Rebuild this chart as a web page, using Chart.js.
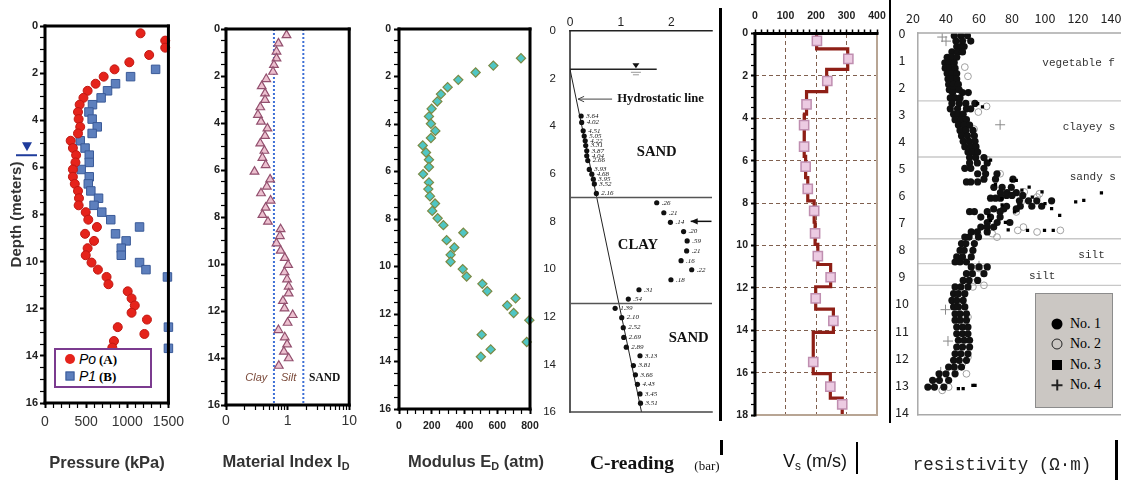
<!DOCTYPE html>
<html>
<head>
<meta charset="utf-8">
<title>Borehole profiles</title>
<script src="https://cdn.jsdelivr.net/npm/chart.js@4.4.1/dist/chart.umd.min.js"></script>
<style>
  html, body { margin: 0; padding: 0; background: #fff; }
  body { position: relative; width: 1121px; height: 480px; overflow: hidden; font-family: 'Liberation Sans', Arial, sans-serif; }
  canvas { position: absolute; top: 0; }
  .lbl { position: absolute; white-space: nowrap; transform: translate(-50%, -50%); line-height: 1; }
  .lbl sub { font-size: 0.66em; vertical-align: -0.3em; }
  .rule { position: absolute; background: #000; }
  .legend { position: absolute; box-sizing: border-box; }
  .legend .sym { position: absolute; transform: translate(-50%, -50%); box-sizing: border-box; }
  .legend .txt { position: absolute; transform: translateY(-50%); white-space: nowrap; line-height: 1; }
</style>
</head>
<body>
<canvas id="pressure" width="190" height="480" style="left:0"></canvas>
<canvas id="material" width="170" height="480" style="left:190px"></canvas>
<canvas id="modulus" width="190" height="480" style="left:360px"></canvas>
<canvas id="creading" width="185" height="480" style="left:535px"></canvas>
<canvas id="vs" width="175" height="480" style="left:725px"></canvas>
<canvas id="resist" width="280" height="480" style="left:892px"></canvas>

<div class="legend" style="left:54px;top:348px;width:98px;height:40px;border:2px solid #7b3b8f;background:#fff">
  <div class="sym" style="left:14px;top:9px;width:10px;height:10px;border-radius:50%;background:#e5231b"></div>
  <div class="txt" style="left:23px;top:9px;font:italic 14px 'Liberation Sans'">Po</div>
  <div class="txt" style="left:43px;top:10px;font:bold 13px 'Liberation Serif'">(A)</div>
  <div class="sym" style="left:14px;top:26px;width:9px;height:9px;background:#5d7fbd;border:1px solid #3a5a98"></div>
  <div class="txt" style="left:23px;top:26px;font:italic 14px 'Liberation Sans'">P1</div>
  <div class="txt" style="left:43px;top:27px;font:bold 13px 'Liberation Serif'">(B)</div>
</div>

<div class="legend" style="left:1035px;top:293px;width:78px;height:115px;border:1px solid #8c8c8c;background:#cbc7c3">
  <div class="sym" style="left:21px;top:30px;width:11px;height:11px;border-radius:50%;background:#000"></div>
  <div class="txt" style="left:34px;top:30px;font:14px 'Liberation Serif'">No. 1</div>
  <div class="sym" style="left:21px;top:50px;width:11px;height:11px;border-radius:50%;border:1px solid #222"></div>
  <div class="txt" style="left:34px;top:50px;font:14px 'Liberation Serif'">No. 2</div>
  <div class="sym" style="left:21px;top:71px;width:10px;height:10px;background:#000"></div>
  <div class="txt" style="left:34px;top:71px;font:14px 'Liberation Serif'">No. 3</div>
  <div class="sym" style="left:21px;top:91px;width:11px;height:1.5px;background:#222"></div>
  <div class="sym" style="left:21px;top:91px;width:1.5px;height:11px;background:#222"></div>
  <div class="txt" style="left:34px;top:91px;font:14px 'Liberation Serif'">No. 4</div>
</div>

<div class="lbl" style="left:107px;top:462px;font:bold 16.5px 'Liberation Sans';color:#333">Pressure (kPa)</div>
<div class="lbl" style="left:286px;top:462px;font:bold 16.5px 'Liberation Sans';color:#333">Material Index I<sub>D</sub></div>
<div class="lbl" style="left:476px;top:462px;font:bold 16.5px 'Liberation Sans';color:#333">Modulus E<sub>D</sub> (atm)</div>
<div class="lbl" style="left:632px;top:463px;font:bold 19.5px 'Liberation Serif';color:#111">C-reading</div>
<div class="lbl" style="left:707px;top:466px;font:13px 'Liberation Serif';color:#111">(bar)</div>
<div class="lbl" style="left:815px;top:462px;font:18px 'Liberation Sans';color:#111">V<sub>s</sub> (m/s)</div>
<div class="lbl" style="left:1002px;top:465px;font:17.5px 'Liberation Mono';color:#222">resistivity (Ω·m)</div>

<div class="rule" style="left:719px;top:8px;width:3px;height:413px"></div>
<div class="rule" style="left:720px;top:440px;width:3px;height:15px"></div>
<div class="rule" style="left:856px;top:442px;width:2px;height:32px"></div>
<div class="rule" style="left:889px;top:0;width:2px;height:423px"></div>
<div class="rule" style="left:1115px;top:440px;width:3px;height:40px"></div>

<script>
// ---- pressuremeter: Po (A) and P1 (B), kPa against depth (m)
const poDepth = [0.31,0.62,0.92,1.23,1.54,1.84,2.15,2.45,2.75,3.05,3.34,3.65,3.95,4.28,4.56,4.87,5.18,5.48,5.79,6.09,6.40,6.70,7.00,7.31,7.61,7.90,8.22,8.53,8.82,9.12,9.43,9.73,10.04,10.34,10.65,10.96,11.26,11.56,11.86,12.17,12.46,12.78,13.07,13.37,13.65];
const poKPa = [1161,1461,1461,1266,1025,845,713,615,518,467,421,401,409,428,401,312,339,378,370,339,339,362,401,413,409,495,526,631,487,596,518,495,565,643,748,771,1005,1052,1091,1052,1239,884,1208,838,818];
const p1Depth = [1.84,2.15,2.45,2.75,3.05,3.34,3.65,3.95,4.28,4.56,4.87,5.18,5.48,5.79,6.09,6.40,6.70,7.00,7.31,7.61,7.90,8.22,8.53,8.82,9.12,9.43,9.73,10.04,10.34,10.65,12.78,13.68];
const p1KPa = [1344,1040,857,760,682,577,534,573,635,573,428,487,538,538,440,538,526,557,651,596,690,799,1149,857,986,927,927,1149,1227,1488,1500,1500];
const waterTableDepth = 5.4;

// ---- material index ID (log axis)
const idDepth = [0.26,0.61,0.96,1.25,1.53,1.82,2.13,2.43,2.74,3.02,3.33,3.65,3.94,4.23,4.55,4.87,5.18,5.48,5.79,6.07,6.40,6.71,6.99,7.30,7.60,7.91,8.20,8.52,8.81,9.12,9.43,9.74,10.04,10.35,10.65,10.96,11.25,11.57,11.89,12.17,12.50,12.81,13.12,13.42,13.73,14.01,14.33];
const idValue = [0.96,0.71,0.66,0.66,0.60,0.58,0.45,0.38,0.43,0.43,0.36,0.33,0.37,0.47,0.43,0.36,0.42,0.39,0.44,0.29,0.52,0.46,0.37,0.53,0.44,0.39,0.48,0.77,0.75,0.66,0.77,0.90,1.02,0.89,0.98,1.04,1.04,0.84,0.89,1.21,1.00,0.71,0.90,0.98,0.87,1.04,0.72];
const idTicks = [0.1,0.2,0.3,0.4,0.5,0.6,0.7,0.8,0.9,1,2,3,4,5,6,7,8,9,10];
const idBounds = [0.6, 1.8];
const idZones = ['Clay', 'Silt', 'SAND'];
const idZoneAt = [0.31, 1.04, 4.0];
const idZoneDepth = 14.85;

// ---- dilatometer modulus ED (atm)
const edDepth = [1.23,1.54,1.83,2.14,2.45,2.74,3.05,3.36,3.68,3.99,4.29,4.59,4.90,5.20,5.50,5.81,6.11,6.46,6.74,7.04,7.35,7.66,7.97,8.26,8.58,8.89,9.20,9.51,9.80,10.11,10.42,10.73,11.04,11.34,11.64,11.96,12.26,12.87,13.18,13.49,13.80];
const edAtm = [745,576,468,362,297,256,234,199,183,195,222,195,145,165,183,183,147,183,179,189,220,203,236,271,393,291,338,315,315,389,413,509,539,712,661,700,796,505,780,560,500];

// ---- C-reading (bar) with printed ratios
const cDepth = [3.58,3.85,4.20,4.42,4.62,4.82,5.04,5.25,5.45,5.82,6.02,6.23,6.43,6.83,7.22,7.64,8.04,8.43,8.82,9.24,9.65,10.03,10.45,10.87,11.26,11.65,12.04,12.46,12.87,13.28,13.64,14.05,14.44,14.84,15.24,15.63];
const cBar = [0.22,0.23,0.26,0.28,0.30,0.31,0.33,0.33,0.35,0.38,0.43,0.46,0.48,0.52,1.71,1.85,1.98,2.24,2.31,2.30,2.19,2.40,1.99,1.36,1.15,0.89,1.02,1.05,1.06,1.11,1.38,1.25,1.29,1.33,1.38,1.39];
const cTags = ['3.64','4.02','4.51','5.05','4.22','3.31','3.87','4.04','2.66','3.93','4.68','3.95','3.52','2.16','.26','.21','.14','.20','.59','.21','.16','.22','.18','.31','.54','1.39','2.10','2.52','2.69','2.89','3.13','3.81','3.66','4.43','3.45','3.51'];
const hydroDepth = [1.62, 16];
const hydroBar = [0, 1.41];
const cWaterDepth = 1.62;
const cLayerDepths = [7.0, 11.45];
const cSoils = ['SAND', 'CLAY', 'SAND'];
const cSoilDepth = [5.08, 9.0, 12.92];
const cSoilBar = [1.71, 1.34, 2.34];

// ---- shear wave velocity Vs (m/s)
const vsBounds = [0,0.73,1.69,2.74,3.8,4.85,5.8,6.8,7.9,8.9,9.95,10.9,11.95,13.0,14.1,16.05,17.2,18];
const vsLayer = [202,304,235,169,162,161,166,173,194,197,206,248,199,257,191,247,286];
const vsPtDepth = [0.35,1.2,2.24,3.34,4.32,5.34,6.28,7.33,8.37,9.43,10.5,11.5,12.5,13.56,15.5,16.66,17.5];
const vsPtValue = [203,306,237,169,161,161,166,173,194,197,206,248,199,257,191,247,286];

// ---- resistivity (ohm m), probes No.1 to No.4
const res1Depth = [0.1,0.3,0.5,0.7,0.9,1.1,1.3,1.5,1.7,1.9,2.1,2.2,2.4,2.6,2.8,3.0,3.2,3.4,3.6,3.8,4.0,4.2,4.4,4.6,4.8,5.0,5.2,5.4,5.5,5.7,5.9,6.0,6.1,6.2,6.4,6.5,6.6,6.8,7.0,7.17,7.35,7.54,7.78,8.03,8.27,8.46,8.64,8.89,9.14,9.38,9.63,9.88,10.12,10.37,10.61,10.86,11.11,11.35,11.6,11.85,12.09,12.34,12.59,12.83,13.08];
const res1Ohm = [
  [45,49,53],[46,50,55],[46.5,49,51],[43.6,47,50],[40.7,43.5,46.5],
  [39.3,42,45],[39.5,42.5,45.5],[40.7,43.5,46.5],[41.2,44,46.5],[41.6,44.5,47.5],
  [42,45,48],[44,50,53.5],[42.6,45.5,48.5],[43.6,48,52,57.5],[42.6,47,52.4,55],
  [44.6,47.5,50.4],[45.5,49,52.4],[47.5,51,54.3],[48.5,52,56.3],[49.4,53,57.2],
  [50.4,54,57.6],[51.4,55,58.2],[53.3,56,59.2],[54.3,58,63],[54.3,59,65],
  [51.4,55,63],[59.2,64,70.9],[63,70,80.6],[52.4,55,59.2],[69,74,79.6],
  [73,77,82.6],[76.7,80,86.5],[67,70,73],[84.5,90,95,104],[76.7,85,92,98],
  [68.9,75,82.6],[54.3,57.2,65,72.8],[61.1,67,72.8],[65,71,78.7],[61.1,65,68.9],
  [55.3,59,65],[51.4,54,59.7],[49.4,52,57.2],[48.5,51,56.3],[46.5,50,55.3],
  [45.5,48.5,52.4],[55.3,60,65],[52.4,56,63],[50.4,54,59.2],[45.5,49,53.3],
  [44.6,47.5,51.4],[43.6,46.5,50.4],[44.6,47.5,51.4],[45.5,48.5,52.4],[45.5,48.5,52.4],
  [46.5,50,53.3],[46.5,50,53.3],[47.5,51,54.3],[46.5,50,54.3],[45.5,49,53.3],
  [44.6,48,52.4],[41.6,45,49.4],[35.8,40,45.5],[31.9,36,41.6],[29,33,38.7]
];
const res2Depth = [0.15,0.52,1.26,1.6,3.1,2.71,2.92,3.55,4.2,4.68,5.2,5.87,5.94,6.06,6.24,6.61,7.17,7.29,7.29,7.35,7.41,7.41,7.54,8.7,9.0,9.32,9.38,10.49,11.0,11.5,11.97,12.2,12.4,12.59,13.08,13.2];
const res2Ohm = [52.4,47.5,51.4,53.3,48,64.6,59.6,57,55,65,72.8,87.4,96.6,95.2,85.5,82.6,86.9,83.5,109.3,95.2,68,59.2,70.9,60,56,63,56.3,53.3,52,49,53.3,50,45.5,52.4,41.6,37.7];
const res3Depth = [2.61,2.73,4.7,5.44,5.44,5.6,5.69,5.8,5.87,5.91,6.12,6.06,6.18,6.24,6.3,6.49,6.35,6.61,6.74,6.75,6.92,7.0,7.27,7.29,7.29,7.29,13.02,13.02,13.14,13.14];
const res3Ohm = [59.2,62.1,67,79.6,82.6,70,90.4,86,98.2,134.2,73.8,92.3,123.5,118.6,100,104,74,81.6,108.9,66,67,76,77.7,89.4,99.7,105,56.3,57.6,47.5,50.4];
const res4Depth = [0.15,0.3,3.39,4.3,8.6,10.22,11.38,12.52];
const res4Ohm = [37.7,40,72.8,55,60,39.7,41.2,36.8];
const resLayerDepths = [2.51, 4.58, 7.6, 8.52, 9.32];
const resSoils = ['vegetable f', 'clayey s', 'sandy s', 'silt', 'silt'];
const resSoilDepth = [1.12, 3.47, 5.31, 8.21, 8.98];
const resSoilOhm = [98.4, 110.7, 115, 120.2, 90.3];
const resBoxFrom = 22.9;

Chart.defaults.font.family = "'Liberation Sans', Arial, sans-serif";
Chart.defaults.color = '#222';
Chart.defaults.animation = false;
Chart.defaults.responsive = false;
Chart.defaults.plugins.legend.display = false;
Chart.defaults.plugins.tooltip.enabled = false;

const pts = (xs, ys) => xs.map((x, i) => ({x, y: ys[i]}));
const fixW = w => s => { s.width = w; };
const fixH = h => s => { s.height = h; };
const every = n => v => (Math.abs(v % n) < 1e-6 ? v : '');
const tickGrid = isMajor => ({
  drawOnChartArea: false, drawTicks: true, tickLength: 5, tickColor: '#000',
  tickWidth: c => (c.tick && isMajor(c.tick.value) ? 2 : 1.2)
});
const multipleOf = n => v => Math.abs(v % n) < 1e-6;

function frame(sides, xFrom) {
  return {
    id: 'frame',
    afterDatasetsDraw(chart) {
      const {ctx, chartArea: a} = chart;
      const left = xFrom === undefined ? a.left : chart.scales.x.getPixelForValue(xFrom);
      ctx.save();
      sides.forEach(([side, color, width]) => {
        const h = width / 2;
        ctx.strokeStyle = color;
        ctx.lineWidth = width;
        ctx.beginPath();
        if (side === 'top') { ctx.moveTo(left - h, a.top); ctx.lineTo(a.right + h, a.top); }
        else if (side === 'bottom') { ctx.moveTo(left - h, a.bottom); ctx.lineTo(a.right + h, a.bottom); }
        else if (side === 'left') { ctx.moveTo(left, a.top - h); ctx.lineTo(left, a.bottom + h); }
        else { ctx.moveTo(a.right, a.top - h); ctx.lineTo(a.right, a.bottom + h); }
        ctx.stroke();
      });
      ctx.restore();
    }
  };
}
const box = (color, width) => ['top', 'right', 'bottom', 'left'].map(s => [s, color, width]);

function arrow(ctx, x1, y1, x2, y2, head, filled) {
  ctx.beginPath();
  ctx.moveTo(x1, y1);
  ctx.lineTo(x2, y2);
  ctx.stroke();
  const dir = Math.sign(x2 - x1) || 1;
  ctx.beginPath();
  ctx.moveTo(x2 - dir * head, y2 - head / 2.2);
  ctx.lineTo(x2, y2);
  ctx.lineTo(x2 - dir * head, y2 + head / 2.2);
  if (filled) { ctx.closePath(); ctx.fill(); } else { ctx.stroke(); }
}

// panel 1
new Chart(document.getElementById('pressure'), {
  type: 'scatter',
  data: { datasets: [
    { data: pts(poKPa, poDepth), pointStyle: 'circle', pointRadius: 4.5, backgroundColor: '#e5231b', borderColor: '#c01812', borderWidth: 1, clip: false },
    { data: pts(p1KPa, p1Depth), pointStyle: 'rect', pointRadius: 6, backgroundColor: '#5d7fbd', borderColor: '#3a5a98', borderWidth: 1, clip: false }
  ]},
  options: {
    layout: { padding: { top: 26, right: 17 } },
    scales: {
      x: { min: 0, max: 1500, afterFit: fixH(77), border: { display: false }, grid: tickGrid(multipleOf(500)),
           ticks: { stepSize: 100, autoSkip: false, maxRotation: 0, padding: 6, color: '#333', font: { size: 14 }, callback: every(500) } },
      y: { reverse: true, min: 0, max: 16, afterFit: fixW(45), border: { display: false }, grid: tickGrid(multipleOf(2)),
           ticks: { stepSize: 0.5, autoSkip: false, padding: 2, font: { size: 11, weight: 'bold' }, callback: every(2) },
           title: { display: true, text: 'Depth (meters)', color: '#333', font: { size: 15, weight: 'bold' }, padding: { top: 8, bottom: 0 } } }
    }
  },
  plugins: [frame(box('#000', 3)), {
    id: 'waterTable',
    afterDraw(chart) {
      const {ctx, chartArea: a, scales: {y}} = chart;
      const py = y.getPixelForValue(waterTableDepth);
      const cx = a.left - 18;
      ctx.save();
      ctx.strokeStyle = '#1f3c9c';
      ctx.fillStyle = '#1f3c9c';
      ctx.lineWidth = 2;
      ctx.beginPath();
      ctx.moveTo(a.left - 29, py + 2);
      ctx.lineTo(a.left - 8, py + 2);
      ctx.stroke();
      ctx.beginPath();
      ctx.moveTo(cx - 5, py - 11);
      ctx.lineTo(cx + 5, py - 11);
      ctx.lineTo(cx, py - 2);
      ctx.closePath();
      ctx.fill();
      ctx.restore();
    }
  }]
});

// panel 2
new Chart(document.getElementById('material'), {
  type: 'scatter',
  data: { datasets: [
    { data: pts(idValue, idDepth), pointStyle: 'triangle', pointRadius: 5, backgroundColor: '#ecc0cf', borderColor: '#93506f', borderWidth: 1.2 }
  ]},
  options: {
    layout: { padding: { top: 29, right: 8 } },
    scales: {
      x: { type: 'logarithmic', min: 0.1, max: 10, afterFit: fixH(75), border: { display: false },
           afterBuildTicks: s => { s.ticks = idTicks.map(v => ({ value: v })); },
           grid: tickGrid(v => v === 0.1 || v === 1 || v === 10),
           ticks: { autoSkip: false, maxRotation: 0, padding: 3, color: '#333', font: { size: 14 },
                    callback: v => (v === 0.1 ? '0' : (v === 1 || v === 10) ? String(v) : '') } },
      y: { reverse: true, min: 0, max: 16, afterFit: fixW(36), border: { display: false }, grid: tickGrid(multipleOf(2)),
           ticks: { stepSize: 0.5, autoSkip: false, padding: 1, font: { size: 11, weight: 'bold' }, callback: every(2) } }
    }
  },
  plugins: [frame(box('#000', 3)), {
    id: 'zones',
    beforeDatasetsDraw(chart) {
      const {ctx, chartArea: a, scales: {x, y}} = chart;
      ctx.save();
      ctx.strokeStyle = '#3d6fd6';
      ctx.lineWidth = 2;
      ctx.setLineDash([2, 2]);
      idBounds.forEach(v => {
        const px = x.getPixelForValue(v);
        ctx.beginPath();
        ctx.moveTo(px, a.top);
        ctx.lineTo(px, a.bottom);
        ctx.stroke();
      });
      ctx.setLineDash([]);
      ctx.textAlign = 'center';
      ctx.textBaseline = 'middle';
      const py = y.getPixelForValue(idZoneDepth);
      idZones.forEach((name, i) => {
        const isSand = name === 'SAND';
        ctx.font = isSand ? "bold 11.5px 'Liberation Serif'" : "italic 11px 'Liberation Sans'";
        ctx.fillStyle = isSand ? '#111' : '#7b4a3a';
        ctx.fillText(name, x.getPixelForValue(idZoneAt[i]), py);
      });
      ctx.restore();
    }
  }]
});

// panel 3
new Chart(document.getElementById('modulus'), {
  type: 'scatter',
  data: { datasets: [
    { data: pts(edAtm, edDepth), pointStyle: 'rectRot', pointRadius: 4.6, backgroundColor: '#4fc6c4', borderColor: '#7b8a45', borderWidth: 1.2, clip: false }
  ]},
  options: {
    layout: { padding: { top: 29, right: 20 } },
    scales: {
      x: { min: 0, max: 800, afterFit: fixH(71), border: { display: false }, grid: tickGrid(multipleOf(200)),
           ticks: { stepSize: 50, autoSkip: false, maxRotation: 0, padding: 6, font: { size: 10.5, weight: 'bold' }, callback: every(200) } },
      y: { reverse: true, min: 0, max: 16, afterFit: fixW(39), border: { display: false }, grid: tickGrid(multipleOf(2)),
           ticks: { stepSize: 0.5, autoSkip: false, padding: 3, font: { size: 10.5, weight: 'bold' }, callback: every(2) } }
    }
  },
  plugins: [frame(box('#000', 3))]
});

// panel 4
new Chart(document.getElementById('creading'), {
  type: 'scatter',
  data: { datasets: [
    { data: pts(cBar, cDepth), pointStyle: 'circle', pointRadius: 2.6, backgroundColor: '#111', borderColor: '#111', borderWidth: 0 },
    { data: pts(hydroBar, hydroDepth), showLine: true, pointRadius: 0, borderColor: '#222', borderWidth: 1 }
  ]},
  options: {
    layout: { padding: { right: 8, bottom: 68 } },
    scales: {
      x: { position: 'top', min: 0, max: 2.8, afterFit: fixH(30.7), border: { display: false }, grid: { display: false, drawTicks: false },
           ticks: { stepSize: 1, includeBounds: false, autoSkip: false, maxRotation: 0, padding: 1, color: '#222', font: { size: 12 } } },
      y: { reverse: true, min: 0, max: 16, afterFit: fixW(35), border: { display: false }, grid: { display: false, drawTicks: false },
           ticks: { stepSize: 2, padding: 14, color: '#222', font: { size: 11.5 } } }
    }
  },
  plugins: [frame([['top', '#222', 1.5], ['left', '#222', 1.5], ['bottom', '#444', 1.5]]), {
    id: 'cNotes',
    afterDatasetsDraw(chart) {
      const {ctx, chartArea: a, scales: {x, y}} = chart;
      ctx.save();
      ctx.strokeStyle = '#555';
      ctx.lineWidth = 1.5;
      cLayerDepths.forEach(d => {
        const py = y.getPixelForValue(d);
        ctx.beginPath(); ctx.moveTo(a.left, py); ctx.lineTo(a.right, py); ctx.stroke();
      });
      // water table
      const wy = y.getPixelForValue(cWaterDepth);
      ctx.strokeStyle = '#222';
      ctx.beginPath(); ctx.moveTo(a.left, wy); ctx.lineTo(x.getPixelForValue(1.71), wy); ctx.stroke();
      const wx = x.getPixelForValue(1.3);
      ctx.fillStyle = '#111';
      ctx.beginPath(); ctx.moveTo(wx - 3.5, wy - 6); ctx.lineTo(wx + 3.5, wy - 6); ctx.lineTo(wx, wy - 1); ctx.closePath(); ctx.fill();
      ctx.strokeStyle = '#999'; ctx.lineWidth = 1;
      ctx.beginPath(); ctx.moveTo(wx - 5, wy + 3); ctx.lineTo(wx + 5, wy + 3); ctx.moveTo(wx - 3, wy + 5.5); ctx.lineTo(wx + 3, wy + 5.5); ctx.stroke();
      // hydrostatic label
      const hy = y.getPixelForValue(2.87);
      ctx.strokeStyle = '#444'; ctx.fillStyle = '#444'; ctx.lineWidth = 1;
      arrow(ctx, x.getPixelForValue(0.83), hy, x.getPixelForValue(0.16), hy, 6, false);
      ctx.fillStyle = '#111';
      ctx.font = "bold 12.7px 'Liberation Serif'";
      ctx.textBaseline = 'middle';
      ctx.textAlign = 'left';
      ctx.fillText('Hydrostatic line', x.getPixelForValue(0.93), hy);
      // arrow at 8 m
      const ay = y.getPixelForValue(8.0);
      ctx.strokeStyle = '#111'; ctx.lineWidth = 1.5;
      arrow(ctx, x.getPixelForValue(2.79), ay, x.getPixelForValue(2.38), ay, 7, true);
      // soil names
      ctx.textAlign = 'center';
      ctx.font = "bold 14.7px 'Liberation Serif'";
      cSoils.forEach((s, i) => ctx.fillText(s, x.getPixelForValue(cSoilBar[i]), y.getPixelForValue(cSoilDepth[i])));
      // printed ratios
      ctx.textAlign = 'left';
      ctx.font = "italic 7px 'Liberation Serif'";
      cTags.forEach((t, i) => ctx.fillText(t, x.getPixelForValue(cBar[i]) + 5, y.getPixelForValue(cDepth[i])));
      ctx.restore();
    }
  }]
});

// panel 5
const vsSteps = vsLayer.flatMap((v, i) => [{ x: v, y: vsBounds[i] }, { x: v, y: vsBounds[i + 1] }]);
new Chart(document.getElementById('vs'), {
  type: 'scatter',
  data: { datasets: [
    { data: pts(vsPtValue, vsPtDepth), pointStyle: 'rect', pointRadius: 6.5, backgroundColor: '#eccbe2', borderColor: '#bf8eb0', borderWidth: 1.5, clip: false },
    { data: vsSteps, showLine: true, pointRadius: 0, borderColor: '#8e1f16', borderWidth: 3.2, borderJoinStyle: 'miter', clip: false }
  ]},
  options: {
    layout: { padding: { right: 23, bottom: 65 } },
    scales: {
      x: { position: 'top', min: 0, max: 400, afterFit: fixH(33.5), border: { display: false, dash: [4, 3] },
           grid: { drawOnChartArea: true, drawTicks: true, tickLength: 4, tickColor: '#000', tickWidth: 1.5, lineWidth: 1,
                   color: c => (c.tick && c.tick.value % 100 === 0 && c.tick.value > 0 && c.tick.value < 400 ? '#80604f' : 'rgba(0,0,0,0)') },
           ticks: { stepSize: 20, autoSkip: false, maxRotation: 0, padding: 7, font: { size: 10.5, weight: 'bold' }, callback: every(100) } },
      y: { reverse: true, min: 0, max: 18, afterFit: fixW(30), border: { display: false, dash: [4, 3] },
           grid: { drawOnChartArea: true, drawTicks: true, tickLength: 4, tickColor: '#000', lineWidth: 1,
                   tickWidth: c => (c.tick && c.tick.value % 2 === 0 ? 2 : 1.2),
                   color: c => (c.tick && c.tick.value % 2 === 0 && c.tick.value > 0 && c.tick.value < 18 ? '#80604f' : 'rgba(0,0,0,0)') },
           ticks: { stepSize: 0.5, autoSkip: false, padding: 3, font: { size: 10.5, weight: 'bold' }, callback: every(2) } }
    }
  },
  plugins: [frame([['right', '#b8a594', 2], ['bottom', '#b8a594', 2], ['left', '#000', 3], ['top', '#000', 3]])]
});

// panel 6
const res1Points = res1Depth.flatMap((d, i) => res1Ohm[i].map(v => ({ x: v, y: d })));
new Chart(document.getElementById('resist'), {
  type: 'scatter',
  data: { datasets: [
    { data: pts(res3Ohm, res3Depth), pointStyle: 'rect', pointRadius: 2.3, backgroundColor: '#000', borderWidth: 0 },
    { data: res1Points, pointStyle: 'circle', pointRadius: 3.6, backgroundColor: '#111', borderWidth: 0 },
    { data: pts(res4Ohm, res4Depth), pointStyle: 'cross', pointRadius: 5, borderColor: '#8a8a8a', borderWidth: 1 },
    { data: pts(res2Ohm, res2Depth), pointStyle: 'circle', pointRadius: 3.4, backgroundColor: 'rgba(255,255,255,0)', borderColor: '#a0a0a0', borderWidth: 1 }
  ]},
  options: {
    layout: { padding: { right: 28, bottom: 65.3 } },
    scales: {
      x: { position: 'top', min: 20, max: 160, afterFit: fixH(33), border: { display: false }, grid: { display: false, drawTicks: false },
           ticks: { stepSize: 20, autoSkip: false, maxRotation: 0, padding: 7, color: '#222', font: { size: 12.5, family: "'Noto Sans CJK JP', 'DejaVu Sans'" },
                    callback: v => (v <= 140 ? v : '') } },
      y: { reverse: true, min: 0, max: 14.1, afterFit: fixW(21), border: { display: false }, grid: { display: false, drawTicks: false },
           ticks: { stepSize: 1, includeBounds: false, crossAlign: 'center', padding: 4, color: '#222', font: { size: 12.5, family: "'Noto Sans CJK JP', 'DejaVu Sans'" } } }
    }
  },
  plugins: [frame([['top', '#a9a9a9', 1.5], ['left', '#a9a9a9', 1.5], ['bottom', '#a9a9a9', 1.5]], resBoxFrom), {
    id: 'resLayers',
    beforeDatasetsDraw(chart) {
      const {ctx, chartArea: a, scales: {x, y}} = chart;
      ctx.save();
      ctx.strokeStyle = '#c8c8c8';
      ctx.lineWidth = 1.3;
      resLayerDepths.forEach(d => {
        const py = y.getPixelForValue(d);
        ctx.beginPath(); ctx.moveTo(x.getPixelForValue(resBoxFrom), py); ctx.lineTo(a.right, py); ctx.stroke();
      });
      ctx.fillStyle = '#333';
      ctx.font = "11px 'Liberation Mono'";
      ctx.textAlign = 'left';
      ctx.textBaseline = 'middle';
      resSoils.forEach((s, i) => ctx.fillText(s, x.getPixelForValue(resSoilOhm[i]), y.getPixelForValue(resSoilDepth[i])));
      ctx.restore();
    }
  }]
});
</script>
</body>
</html>
